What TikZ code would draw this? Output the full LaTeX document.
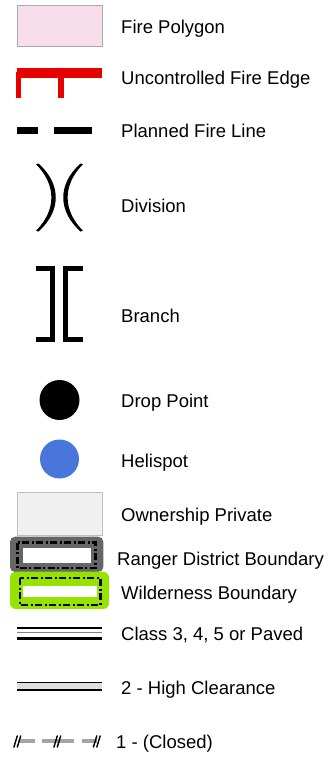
\documentclass[tikz,border=0pt]{standalone}
\usepackage{fontspec}
\setmainfont{Liberation Sans}
\definecolor{polypink}{RGB}{247,222,234}
\definecolor{polyedge}{RGB}{170,170,170}
\definecolor{firered}{RGB}{232,0,0}
\definecolor{ownfill}{RGB}{240,240,240}
\definecolor{ownedge}{RGB}{190,190,190}
\definecolor{rdgray}{RGB}{102,102,102}
\definecolor{wildgreen}{RGB}{150,226,0}
\definecolor{heliblue}{RGB}{72,118,219}
\definecolor{hcfill}{RGB}{222,222,222}
\definecolor{closedgray}{RGB}{165,165,165}
\tikzset{
  lbl/.style={anchor=base west, inner sep=0pt, font=\fontsize{18.5}{22}\selectfont},
  dashdotline/.style={black, line width=2.2pt, dash pattern=on 7pt off 2.5pt on 2pt off 2.5pt},
  slashmark/.style={black, line width=1.4pt}
}
\begin{document}
\begin{tikzpicture}[x=1pt,y=-1pt]
\useasboundingbox (0,0) rectangle (327,757);
% Fire polygon
\filldraw[fill=polypink, draw=polyedge, line width=1pt] (17,5.5) rectangle (102,46.5);
\node[lbl] (t1) at (121,34) {Fire Polygon};
% Uncontrolled fire edge
\fill[firered] (16.7,68.3) rectangle (102.3,78.3);
\fill[firered] (15.7,71.7) rectangle (21,98.3);
\fill[firered] (58.3,78) rectangle (63.7,98.3);
\node[lbl] (t2) at (121,85) {Uncontrolled Fire Edge};
% Planned fire line
\fill[black] (16.7,126.7) rectangle (38.3,134.3);
\fill[black] (54.3,126.7) rectangle (91.7,134.3);
\node[lbl] (t3) at (121,137) {Planned Fire Line};
% Division
\fill[black] (38.5,163.5) .. controls (61.5,184) and (61.5,211) .. (38.5,231.5)
  -- (36,230.8) .. controls (56.5,210) and (56.5,185) .. (36,164.2) -- cycle;
\fill[black] (80.5,163.5) .. controls (57.5,184) and (57.5,211) .. (80.5,231.5)
  -- (83,230.8) .. controls (62.5,210) and (62.5,185) .. (83,164.2) -- cycle;
\node[lbl] (t4) at (121,212) {Division};
% Branch
\draw[line width=5pt, miter limit=10] (36,268.5) -- (52.5,268.5) -- (52.5,339.5) -- (36,339.5);
\draw[line width=5pt, miter limit=10] (83,268.5) -- (65.5,268.5) -- (65.5,339.5) -- (83,339.5);
\node[lbl] (t5) at (121,322) {Branch};
% Drop point
\fill[black] (59.5,400) circle (20);
\node[lbl] (t6) at (121,407) {Drop Point};
% Helispot
\fill[heliblue] (59.5,459) circle (19.5);
\node[lbl] (t7) at (121,467) {Helispot};
% Ownership private
\filldraw[fill=ownfill, draw=ownedge, line width=1pt] (17,492.5) rectangle (102,535);
\node[lbl] (t8) at (121,521) {Ownership Private};
% Ranger district boundary
\fill[rdgray, rounded corners=5pt] (10,536.7) rectangle (103.3,572);
\fill[white] (23.3,548.3) rectangle (90.7,562.7);
\draw[dashdotline] (17.5,542.5) rectangle (95.5,568.3);
\node[lbl] (t9) at (117,565.5) {Ranger District Boundary};
% Wilderness boundary
\fill[wildgreen, rounded corners=6pt] (10,571.7) rectangle (109,609);
\fill[white] (23.3,586) rectangle (96.7,597.3);
\draw[dashdotline] (20,578.3) rectangle (100.5,605);
\node[lbl] (t10) at (121,599) {Wilderness Boundary};
% Class 3,4,5 or paved
\fill[black] (16.7,626.7) rectangle (102.3,628.9);
\fill[gray] (16.7,632.2) rectangle (102.3,633.4);
\fill[black] (16.7,637.3) rectangle (102.3,639.5);
\node[lbl] (t11) at (121,640.5) {Class 3, 4, 5 or Paved};
% 2 - High clearance
\fill[hcfill] (16.7,683) rectangle (102.3,689.3);
\fill[black] (16.7,681.7) rectangle (102.3,683.3);
\fill[black] (16.7,689) rectangle (102.3,690.7);
\node[lbl] (t12) at (121,694.5) {2 - High Clearance};
% 1 - (Closed)
\draw[closedgray, line width=3.5pt] (19,741) -- (35,741);
\draw[closedgray, line width=3.5pt] (41.7,741) -- (74,741);
\draw[closedgray, line width=3.5pt] (81.7,741) -- (97,741);
\foreach \sx in {13.8, 53.8, 93.3} {
  \draw[slashmark] (\sx,747.5) -- (\sx+3.6,735.5);
  \draw[slashmark] (\sx+3.4,747.5) -- (\sx+7,735.5);
}
\node[lbl] (t13) at (116,748.5) {1 - (Closed)};
\end{tikzpicture}
\end{document}
